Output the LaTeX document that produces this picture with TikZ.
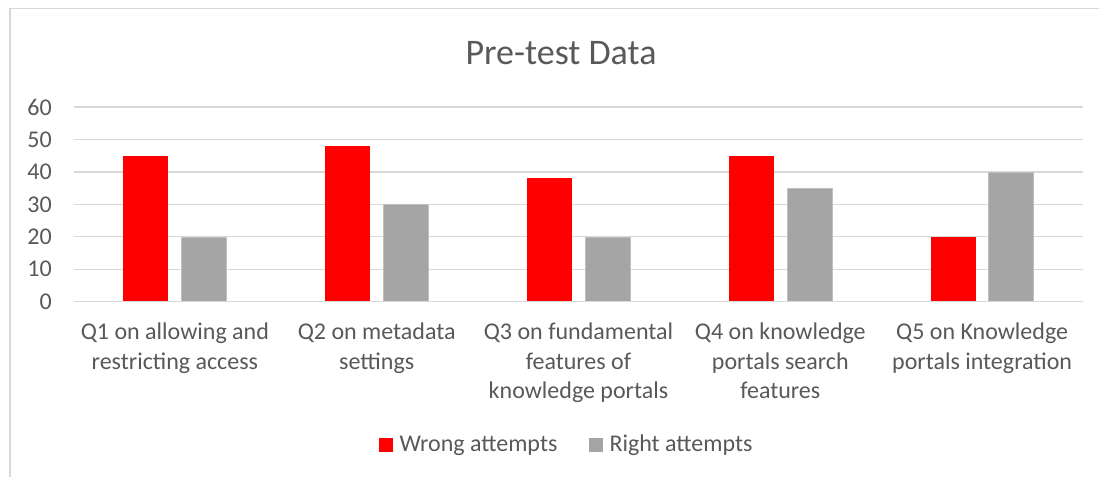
\documentclass[tikz,border=0pt]{standalone}
\usepackage{fontspec}
\setmainfont{Carlito}
\usepackage{tikz}

\definecolor{txtgray}{HTML}{595959}
\definecolor{gridgray}{HTML}{D9D9D9}
\definecolor{rightgray}{HTML}{A5A5A5}
\definecolor{rightedge}{HTML}{BFBFBF}
\definecolor{wrongred}{HTML}{FF0000}

\begin{document}
\begin{tikzpicture}[x=1pt, y=-1pt]
\tikzstyle{frame} = [draw=gridgray, line width=1.5pt]
\tikzstyle{grid} = [draw=gridgray, line width=1.3pt]
\tikzstyle{wrongbar} = [fill=wrongred]
\tikzstyle{rightbar} = [fill=rightgray, draw=rightedge, line width=0.6pt]
\tikzstyle{tick} = [anchor=east, inner sep=0pt, text=txtgray, font=\fontsize{24}{29.3}\selectfont]
\tikzstyle{category} = [anchor=north, align=center, inner sep=0pt, text=txtgray, font=\fontsize{24}{29.3}\selectfont]
\tikzstyle{legendtext} = [anchor=base west, inner sep=0pt, text=txtgray, font=\fontsize{24}{29.3}\selectfont]

\useasboundingbox (0,0) rectangle (1099,477);
\fill[white] (0,0) rectangle (1099,477);

% chart border (cropped at right and bottom)
\path [frame] (10,477) -- (10,8.5) -- (1099,8.5);

% title
\node [anchor=base, inner sep=0pt, text=txtgray, font=\fontsize{36}{43}\selectfont] (title) at (561,64) {Pre-test Data};

% gridlines
\path [grid] (74,107.0) -- (1083,107.0);
\path [grid] (74,139.45) -- (1083,139.45);
\path [grid] (74,171.9) -- (1083,171.9);
\path [grid] (74,204.35) -- (1083,204.35);
\path [grid] (74,236.8) -- (1083,236.8);
\path [grid] (74,269.25) -- (1083,269.25);

% axis values
\node [tick] (t60) at (52,107.0) {60};
\node [tick] (t50) at (52,139.45) {50};
\node [tick] (t40) at (52,171.9) {40};
\node [tick] (t30) at (52,204.35) {30};
\node [tick] (t20) at (52,236.8) {20};
\node [tick] (t10) at (52,269.25) {10};
\node [tick] (t0) at (52,301.7) {0};

% bars
\path [wrongbar] (123.4,301.7) rectangle (168.4,155.7);
\path [rightbar] (181.4,301.7) rectangle (226.4,236.8);
\path [wrongbar] (325.2,301.7) rectangle (370.2,145.9);
\path [rightbar] (383.2,301.7) rectangle (428.2,204.35);
\path [wrongbar] (527.0,301.7) rectangle (572.0,178.4);
\path [rightbar] (585.0,301.7) rectangle (630.0,236.8);
\path [wrongbar] (728.8,301.7) rectangle (773.8,155.7);
\path [rightbar] (786.8,301.7) rectangle (831.8,188.1);
\path [wrongbar] (930.6,301.7) rectangle (975.6,236.8);
\path [rightbar] (988.6,301.7) rectangle (1033.6,171.9);

% base line
\path [grid] (74,301.7) -- (1083,301.7);

% categories
\node [category] (q1) at (174.9,323) {Q1 on allowing and\\restricting access};
\node [category] (q2) at (376.7,323) {Q2 on metadata\\settings};
\node [category] (q3) at (578.5,323) {Q3 on fundamental\\features of\\knowledge portals};
\node [category] (q4) at (780.3,323) {Q4 on knowledge\\portals search\\features};
\node [category] (q5) at (982.1,323) {Q5 on Knowledge\\portals integration};

% legend
\path [wrongbar] (379.3,438.3) rectangle (392.7,451.7);
\node [legendtext] (wrong) at (399.3,451.7) {Wrong attempts};
\path [fill=rightgray] (589.3,438.3) rectangle (602.7,451.7);
\node [legendtext] (right) at (609.3,451.7) {Right attempts};
\end{tikzpicture}
\end{document}
